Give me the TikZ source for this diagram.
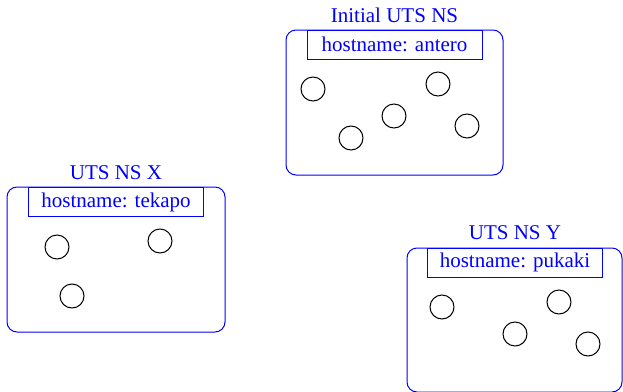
\documentclass[tikz,border=0pt]{standalone}
\usepackage{fontspec}
\setmainfont{Liberation Serif}
\begin{document}
\begin{tikzpicture}[x=0.5pt,y=-0.5pt,font=\fontsize{10.5}{12}\selectfont,
  nsbox/.style={draw=blue,rounded corners=5pt,line width=0.5pt},
  hostbox/.style={draw=blue,text=blue,line width=0.5pt,minimum width=87.5pt,
    minimum height=14.5pt,inner sep=0pt},
  nstitle/.style={text=blue,inner sep=0pt},
  proc/.style={draw,circle,minimum size=12pt,inner sep=0pt,line width=0.5pt}]
  \useasboundingbox (0,0) rectangle (623,392);
  \clip (0,0) rectangle (623,392);
  % initial namespace
  \draw[nsbox] (286,30) rectangle (503,175);
  \node[hostbox] (antero) at (394.5,44.5) {hostname: antero};
  \node[nstitle] (initns) at (394.5,15) {Initial UTS NS};
  \foreach \n/\x/\y in {a1/313/89, a2/351/138, a3/394/116, a4/438/84, a5/467/126} {
    \node[proc] (\n) at (\x,\y) {};
  }
  % namespace X
  \draw[nsbox] (7,187) rectangle (225,332);
  \node[hostbox] (tekapo) at (116,202) {hostname: tekapo};
  \node[nstitle] (nsx) at (116,173) {UTS NS X};
  \foreach \n/\x/\y in {x1/57/247, x2/160/241, x3/72/296} {
    \node[proc] (\n) at (\x,\y) {};
  }
  % namespace Y
  \draw[nsbox] (407,248) rectangle (622,392);
  \node[hostbox] (pukaki) at (515,262.5) {hostname: pukaki};
  \node[nstitle] (nsy) at (515,233) {UTS NS Y};
  \foreach \n/\x/\y in {y1/442/307, y2/559/302, y3/515/334, y4/588/344} {
    \node[proc] (\n) at (\x,\y) {};
  }
\end{tikzpicture}
\end{document}
